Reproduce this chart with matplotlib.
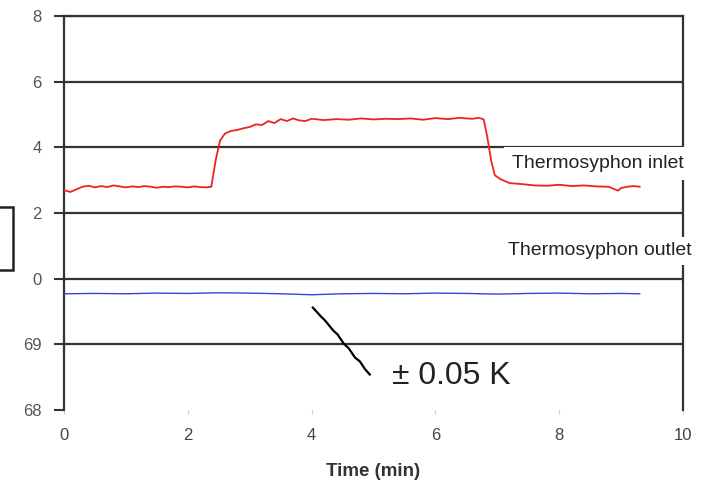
import matplotlib.pyplot as plt
from matplotlib.patches import Rectangle

plt.rcParams['font.family'] = ['Liberation Sans', 'DejaVu Sans']

# inlet (red) trace
t_in = [0.0, 0.1, 0.2, 0.3, 0.4, 0.5, 0.6, 0.7, 0.8, 0.9,
        1.0, 1.1, 1.2, 1.3, 1.4, 1.5, 1.6, 1.7, 1.8, 1.9,
        2.0, 2.1, 2.2, 2.3, 2.38, 2.45, 2.52, 2.6, 2.7, 2.8,
        2.9, 3.0, 3.1, 3.2, 3.3, 3.4, 3.5, 3.6, 3.7, 3.8,
        3.9, 4.0, 4.2, 4.4, 4.6, 4.8, 5.0, 5.2, 5.4, 5.6,
        5.8, 6.0, 6.2, 6.4, 6.5, 6.6, 6.7, 6.78, 6.84, 6.9,
        6.96, 7.05, 7.2, 7.4, 7.6, 7.8, 8.0, 8.2, 8.4, 8.6,
        8.8, 8.95, 9.0, 9.1, 9.2, 9.3]
v_in = [2.70, 2.64, 2.72, 2.80, 2.83, 2.78, 2.82, 2.79, 2.84, 2.81,
        2.78, 2.81, 2.79, 2.82, 2.80, 2.77, 2.80, 2.79, 2.81, 2.80,
        2.78, 2.81, 2.79, 2.78, 2.80, 3.60, 4.20, 4.42, 4.50, 4.53,
        4.58, 4.62, 4.70, 4.68, 4.80, 4.74, 4.86, 4.80, 4.88, 4.82,
        4.80, 4.87, 4.83, 4.86, 4.84, 4.88, 4.85, 4.87, 4.86, 4.88,
        4.84, 4.89, 4.86, 4.90, 4.88, 4.87, 4.90, 4.85, 4.30, 3.60,
        3.15, 3.03, 2.91, 2.88, 2.84, 2.83, 2.86, 2.82, 2.84, 2.81,
        2.80, 2.68, 2.76, 2.80, 2.82, 2.80]

# outlet (blue) trace
t_out = [0.0, 0.5, 1.0, 1.5, 2.0, 2.5, 3.0, 3.5, 4.0, 4.5,
         5.0, 5.5, 6.0, 6.5, 7.0, 7.5, 8.0, 8.5, 9.0, 9.3]
v_out = [-0.46, -0.45, -0.46, -0.44, -0.45, -0.43, -0.44, -0.46, -0.49, -0.46,
         -0.45, -0.46, -0.44, -0.45, -0.47, -0.45, -0.44, -0.46, -0.45, -0.46]

# hand-drawn pointer to the blue line
t_arrow = [4.02, 4.15, 4.22, 4.35, 4.42, 4.52, 4.6, 4.7, 4.78, 4.86, 4.94]
v_arrow = [-0.88, -1.15, -1.28, -1.58, -1.70, -1.98, -2.12, -2.40, -2.52, -2.75, -2.92]

y_ticks = [8, 6, 4, 2, 0, -2, -4]
y_labels = ['8', '6', '4', '2', '0', '69', '68']
x_ticks = [0, 2, 4, 6, 8, 10]

fig = plt.figure(figsize=(7.21, 4.95), dpi=100)
ax = fig.add_axes([64/721, 1-410/495, (683-64)/721, (410-16)/495])

for y in y_ticks[:-1]:
    ax.axhline(y, color='#333333', lw=1.6, zorder=1)

ax.plot(t_in, v_in, color='#ee2222', lw=1.3, zorder=3)
ax.plot(t_out, v_out, color='#3344dd', lw=1.0, zorder=3)
ax.plot(t_arrow, v_arrow, color='black', lw=1.6, zorder=3)

ax.text(5.3, -2.96, '\u00b1 0.05 K', fontsize=23, color='#222222', va='center')
ax.text(7.24, 3.51, 'Thermosyphon inlet', fontsize=14, color='#222222', va='center',
        bbox=dict(facecolor='white', edgecolor='none', pad=6), clip_on=False, zorder=4)
ax.text(7.18, 0.85, 'Thermosyphon outlet', fontsize=14, color='#222222', va='center',
        bbox=dict(facecolor='white', edgecolor='none', pad=4), clip_on=False, zorder=4)

ax.set_xlim(0, 10)
ax.set_ylim(-4, 8)
ax.set_yticks(y_ticks)
ax.set_yticklabels(y_labels)
ax.set_xticks(x_ticks)
ax.tick_params(axis='y', direction='out', length=7, width=1.5, color='#333333',
               labelsize=12, labelcolor='#555555', pad=9)
ax.tick_params(axis='x', direction='out', length=3, width=0.8, color='#cccccc',
               labelsize=12, labelcolor='#444444', pad=10)
ax.set_xlabel('Time (min)', fontsize=13.5, fontweight='bold', color='#333333', labelpad=14)

for s in ['left', 'right', 'top']:
    ax.spines[s].set_color('#333333')
    ax.spines[s].set_linewidth(1.6)
ax.spines['bottom'].set_visible(False)

# partial box at the left edge
fig.patches.append(Rectangle((-10/721, 1-270/495), 23/721, 63/495, transform=fig.transFigure,
                             fill=False, edgecolor='#222222', lw=1.8))

plt.savefig('out.png', dpi=100)
